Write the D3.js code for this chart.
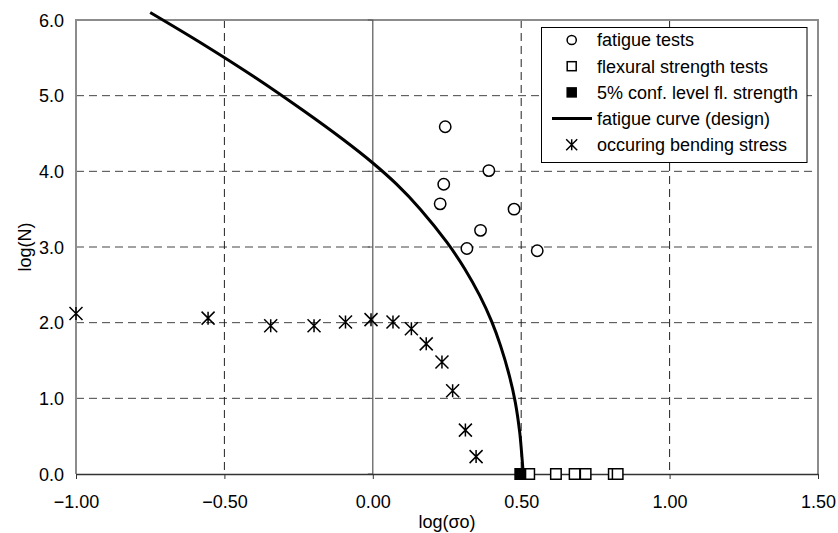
<!DOCTYPE html>
<html><head><meta charset="utf-8">
<script src="https://cdn.jsdelivr.net/npm/d3@7/dist/d3.min.js"></script>
<style>body{margin:0;background:#fff}svg{display:block;font-family:"Liberation Sans",Arial,sans-serif}</style>
</head><body><svg id="c" width="838" height="533"></svg>
<script>
// ---- data ----
const fatigueX = [0.244, 0.391, 0.239, 0.227, 0.476, 0.363, 0.317, 0.554];
const fatigueY = [4.59, 4.01, 3.83, 3.57, 3.50, 3.22, 2.98, 2.95];
const flexX = [0.527, 0.617, 0.680, 0.717, 0.812, 0.825];
const flexY = [0, 0, 0, 0, 0, 0];
const confX = [0.497];
const confY = [0];
const curveX = [-0.75, -0.58, -0.40, -0.233, -0.10, 0.0, 0.08, 0.16, 0.25, 0.31, 0.36, 0.40, 0.43, 0.46, 0.48, 0.495, 0.503, 0.507];
const curveY = [6.10, 5.70, 5.25, 4.80, 4.42, 4.11, 3.83, 3.50, 3.06, 2.71, 2.36, 2.02, 1.70, 1.30, 0.95, 0.55, 0.20, 0.0];
const stressX = [-1.0, -0.555, -0.344, -0.198, -0.092, -0.006, 0.068, 0.130, 0.180, 0.233, 0.269, 0.312, 0.348];
const stressY = [2.12, 2.06, 1.96, 1.96, 2.01, 2.04, 2.01, 1.92, 1.72, 1.48, 1.10, 0.58, 0.23];
const xTicks = [-1.0, -0.5, 0.0, 0.5, 1.0, 1.5];
const yTicks = [0, 1, 2, 3, 4, 5, 6];
const legendLabels = ["fatigue tests", "flexural strength tests", "5% conf. level fl. strength", "fatigue curve (design)", "occuring bending stress"];
const xTitle = "log(σo)";
const yTitle = "log(N)";

// ---- chart ----
const svg = d3.select("#c");
const L = 76, R = 818, T = 20, B = 474;
const x = d3.scaleLinear().domain([-1, 1.5]).range([L, R]);
const y = d3.scaleLinear().domain([0, 6]).range([B, T]);
const FS = 18;

// horizontal grid
svg.append("g").selectAll("line").data(yTicks.filter(d => d > 0 && d < 6)).join("line")
  .attr("x1", L).attr("x2", R).attr("y1", d => y(d)).attr("y2", d => y(d))
  .attr("stroke", "#444").attr("stroke-width", 1).attr("stroke-dasharray", "8,5");
// vertical grid
svg.append("g").selectAll("line").data(xTicks.filter(d => d !== 0 && d > -1 && d < 1.5)).join("line")
  .attr("x1", d => x(d)).attr("x2", d => x(d)).attr("y1", T).attr("y2", B)
  .attr("stroke", "#222").attr("stroke-width", 1).attr("stroke-dasharray", "8,5");
// plot frame (top, right, left)
svg.append("path").attr("d", `M${L},${B}V${T}H${R}V${B}`).attr("fill", "none")
  .attr("stroke", "#8c8c8c").attr("stroke-width", 2);
// y axis at x=0
svg.append("line").attr("x1", x(0)).attr("x2", x(0)).attr("y1", T).attr("y2", B)
  .attr("stroke", "#555").attr("stroke-width", 1.2);
svg.append("g").selectAll("line").data(yTicks).join("line")
  .attr("x1", x(0) - 5).attr("x2", x(0)).attr("y1", d => y(d)).attr("y2", d => y(d))
  .attr("stroke", "#555");

// x axis
const xa = svg.append("g").attr("transform", `translate(0,${B})`)
  .call(d3.axisBottom(x).tickValues(xTicks).tickFormat(d3.format(".2f")).tickSize(5).tickSizeOuter(0));
xa.select(".domain").attr("stroke", "#333").attr("stroke-width", 1.5);
xa.selectAll(".tick line").attr("stroke", "#333");
xa.selectAll("text").attr("y", 33.5).attr("dy", 0).attr("font-size", FS).attr("fill", "#000")
  .attr("font-family", "Liberation Sans, Arial, sans-serif");

// y axis labels
const ya = svg.append("g").attr("transform", `translate(${L},0)`)
  .call(d3.axisLeft(y).tickValues(yTicks).tickFormat(d3.format(".1f")).tickSize(0).tickPadding(12));
ya.select(".domain").remove();
ya.selectAll("text").attr("font-size", FS).attr("fill", "#000").attr("dy", "0.35em")
  .attr("font-family", "Liberation Sans, Arial, sans-serif");

// titles
svg.append("text").attr("x", (L + R) / 2).attr("y", 528).attr("text-anchor", "middle")
  .attr("font-size", FS).text(xTitle);
svg.append("text").attr("transform", `translate(31,${(T + B) / 2}) rotate(-90)`).attr("text-anchor", "middle")
  .attr("font-size", FS).text(yTitle);

// curve
const curve = curveX.map((d, i) => [d, curveY[i]]);
svg.append("path").datum(curve)
  .attr("d", d3.line().x(d => x(d[0])).y(d => y(d[1])).curve(d3.curveCatmullRom.alpha(0.5)))
  .attr("fill", "none").attr("stroke", "#000").attr("stroke-width", 3).attr("stroke-linejoin", "round");

// star marker
function star(g, cx, cy, s) {
  const h = s / 2;
  g.append("path").attr("d",
    `M${cx - h},${cy - h}L${cx + h},${cy + h}M${cx - h},${cy + h}L${cx + h},${cy - h}M${cx},${cy - h}L${cx},${cy + h}`)
    .attr("stroke", "#000").attr("stroke-width", 1.5).attr("fill", "none");
}
const sg = svg.append("g");
stressX.forEach((d, i) => star(sg, x(d), y(stressY[i]), 13));

// fatigue tests circles
svg.append("g").selectAll("circle").data(fatigueX.map((d, i) => [d, fatigueY[i]])).join("circle")
  .attr("cx", d => x(d[0])).attr("cy", d => y(d[1])).attr("r", 5.7)
  .attr("fill", "#fff").attr("stroke", "#000").attr("stroke-width", 1.5);

// flexural squares
const sq = 10.5;
svg.append("g").selectAll("rect").data(flexX.map((d, i) => [d, flexY[i]])).join("rect")
  .attr("x", d => x(d[0]) - sq / 2).attr("y", d => y(d[1]) - sq / 2).attr("width", sq).attr("height", sq)
  .attr("fill", "#fff").attr("stroke", "#000").attr("stroke-width", 1.5);
svg.append("g").selectAll("rect").data(confX.map((d, i) => [d, confY[i]])).join("rect")
  .attr("x", d => x(d[0]) - sq / 2).attr("y", d => y(d[1]) - sq / 2).attr("width", sq).attr("height", sq)
  .attr("fill", "#000").attr("stroke", "#000").attr("stroke-width", 1.5);

// legend
const lg = svg.append("g");
lg.append("rect").attr("x", 541.5).attr("y", 27.5).attr("width", 265.5).attr("height", 135)
  .attr("fill", "#fff").attr("stroke", "#000").attr("stroke-width", 1);
const ly = i => 40 + i * 26.2;
const mx = 571.7;
lg.append("circle").attr("cx", mx).attr("cy", ly(0)).attr("r", 4.6).attr("fill", "#fff").attr("stroke", "#000").attr("stroke-width", 1.5);
lg.append("rect").attr("x", mx - 4.5).attr("y", ly(1) - 4.5).attr("width", 9).attr("height", 9).attr("fill", "#fff").attr("stroke", "#000").attr("stroke-width", 1.5);
lg.append("rect").attr("x", mx - 4.5).attr("y", ly(2) - 4.5).attr("width", 9).attr("height", 9).attr("fill", "#000").attr("stroke", "#000").attr("stroke-width", 1.5);
lg.append("line").attr("x1", 552).attr("x2", 592).attr("y1", ly(3)).attr("y2", ly(3)).attr("stroke", "#000").attr("stroke-width", 3);
star(lg, mx, ly(4), 11);
lg.selectAll("text").data(legendLabels).join("text")
  .attr("x", 597).attr("y", (d, i) => ly(i) + 6.4).attr("font-size", FS).text(d => d);
</script></body></html>
